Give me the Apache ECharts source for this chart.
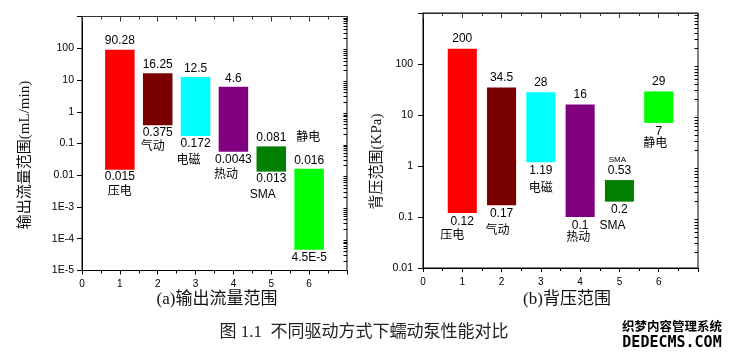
<!DOCTYPE html>
<html><head><meta charset="utf-8">
<script src="https://cdn.jsdelivr.net/npm/echarts@6/dist/echarts.min.js"></script>
<style>html,body{margin:0;padding:0;background:#fff}#c{width:731px;height:359px}</style>
</head><body><div id="c"></div>
<script>
// ---- data ----
const categories = ['压电', '气动', '电磁', '热动', 'SMA', '静电'];
const positions = [1, 2, 3, 4, 5, 6];
// (a) output flow range (mL/min): drawn extents
const flowLow  = [0.015, 0.375, 0.172, 0.055, 0.013, 4.5e-5];
const flowHigh = [90.28, 16.25, 12.5, 6.1, 0.081, 0.016];
const flowLowLabels  = ['0.015', '0.375', '0.172', '0.0043', '0.013', '4.5E-5'];
const flowHighLabels = ['90.28', '16.25', '12.5', '4.6', '0.081', '0.016'];
// (b) back pressure range (KPa)
const pressLow  = [0.12, 0.17, 1.19, 0.1, 0.2, 7];
const pressHigh = [200, 34.5, 28, 16, 0.53, 29];
const pressLowLabels  = ['0.12', '0.17', '1.19', '0.1', '0.2', '7'];
const pressHighLabels = ['200', '34.5', '28', '16', '0.53', '29'];
// tick labels
const xTickLabels = ['0', '1', '2', '3', '4', '5', '6', ''];
const flowTickLabels = ['1E-5', '1E-4', '1E-3', '0.01', '0.1', '1', '10', '100', ''];   // 1e-5 .. 1e3
const pressTickLabels = ['0.01', '0.1', '1', '10', '100', ''];                        // 1e-2 .. 1e3
const flowExpRange = [-5, 3];
const pressExpRange = [-2, 3];
const minorMultipliers = [2, 3, 4, 5, 6, 7, 8, 9];

// ---- styles / layout ----
const barColors = ['#ff0000', '#7a0000', '#00ffff', '#800080', '#007f00', '#00ff00'];
const numFont = '12px "Liberation Sans", Arial, sans-serif';
const cjkFont = '12px "Noto Sans CJK SC", sans-serif';
const smaFont = '12px "Liberation Sans Narrow", "Liberation Sans", sans-serif';
const flowCatLayout = [
  {dx: 0, dy: 21, from: 'low'}, {dx: -5, dy: 20.5, from: 'low'}, {dx: -7, dy: 23, from: 'low'},
  {dx: -7.5, dy: 21.6, from: 'low'}, {dx: -8.5, dy: 23.3, from: 'low'}, {dx: -1, dy: -32.7, from: 'high'}
];
const pressCatLayout = [
  {dx: -10, dy: 21, from: 'low'}, {dx: -4, dy: 24, from: 'low'}, {dx: 0, dy: 25.6, from: 'low'},
  {dx: -2, dy: 19, from: 'low'}, {dx: -7, dy: 23.7, from: 'low'}, {dx: -3.5, dy: 20, from: 'low'}
];
const grids = [
  {left: 82, top: 16.5, width: 265, height: 254},
  {left: 423, top: 13, width: 275, height: 255}
];

function makeRender(cfg) {
  return function (params, api) {
    const i = params.dataIndex;
    const x = api.value(0), lo = api.value(1), hi = api.value(2);
    const pTL = api.coord([x - cfg.barW / 2, hi]);
    const pBR = api.coord([x + cfg.barW / 2, lo]);
    const cx = api.coord([x, hi])[0];
    const children = [{
      type: 'rect',
      shape: {x: pTL[0], y: pTL[1], width: pBR[0] - pTL[0], height: pBR[1] - pTL[1]},
      style: {fill: barColors[i]}
    }];
    const txt = (text, tx, ty, font) => ({
      type: 'text',
      style: {text, x: tx, y: ty, align: 'center', verticalAlign: 'middle', font, fill: '#000'}
    });
    children.push(txt(cfg.highLabels[i], cx, pTL[1] + cfg.topGap, numFont));
    children.push(txt(cfg.lowLabels[i], cx, pBR[1] + cfg.botGap, numFont));
    const L = cfg.catLayout[i];
    const baseY = L.from === 'low' ? pBR[1] : pTL[1];
    const name = categories[i];
    children.push(txt(name, cx + L.dx, baseY + L.dy, name === 'SMA' ? smaFont : cjkFont));
    if (cfg.extra && cfg.extra[i]) {
      const e = cfg.extra[i];
      children.push(txt(e.text, cx + e.dx, pTL[1] + e.dy, e.font));
    }
    return {type: 'group', children};
  };
}

function logFormatter(labels, minExp) {
  return v => {
    const e = Math.round(Math.log10(v));
    const s = labels[e - minExp];
    return s === undefined ? '' : s;
  };
}

const axisColor = '#000';
function xAxes(gi) {
  return [{
    type: 'value', gridIndex: gi, min: 0, max: 7, interval: 1,
    axisLine: {show: true, onZero: false, lineStyle: {color: axisColor}},
    axisTick: {show: true, length: 4, lineStyle: {color: axisColor}},
    minorTick: {show: true, splitNumber: 2, length: 3, lineStyle: {color: axisColor}},
    splitLine: {show: false},
    axisLabel: {formatter: v => xTickLabels[Math.round(v)] || '', fontSize: 10, color: '#000',
      fontFamily: '"Liberation Sans", Arial, sans-serif', margin: 9}
  }, {
    type: 'value', gridIndex: gi, min: 0, max: 7, interval: 1, position: 'top',
    axisLine: {show: true, onZero: false, lineStyle: {color: '#333'}},
    axisTick: {show: true, inside: true, length: 5, lineStyle: {color: '#333'}},
    minorTick: {show: true, splitNumber: 2, length: 3, lineStyle: {color: '#333'}},
    splitLine: {show: false}, axisLabel: {show: false}
  }];
}
function yAxis(gi, expRange, labels, margin) {
  return {
    type: 'log', logBase: 10, gridIndex: gi, position: 'left',
    min: Math.pow(10, expRange[0]), max: Math.pow(10, expRange[1]),
    axisLine: {show: true, onZero: false, lineStyle: {color: axisColor}},
    axisTick: {show: true, length: 5, lineStyle: {color: axisColor}},
    minorTick: {show: false},
    splitLine: {show: false},
    axisLabel: {formatter: logFormatter(labels, expRange[0]), fontSize: 10.5, color: '#000',
      fontFamily: '"Liberation Sans", Arial, sans-serif', margin}
  };
}
// overlay axis (in exponent space) that carries the log minor ticks 2..9 of each decade,
// moved onto the left edge of the grid
function minorAxis(gi, expRange) {
  const vals = [];
  for (let e = expRange[0]; e < expRange[1]; e++) {
    minorMultipliers.forEach(m => vals.push(e + Math.log10(m)));
  }
  return {
    type: 'value', gridIndex: gi, min: expRange[0], max: expRange[1], position: 'right',
    offset: -grids[gi].width,
    axisLine: {show: false}, splitLine: {show: false}, axisLabel: {show: false},
    axisTick: {show: true, inside: true, length: 3.5, customValues: vals, lineStyle: {color: axisColor}}
  };
}

const serif = '"Liberation Serif", "Noto Sans CJK SC", serif';
const option = {
  animation: false,
  backgroundColor: '#fff',
  grid: grids.map(g => Object.assign({show: true, borderColor: '#000', borderWidth: 1}, g)),
  xAxis: [...xAxes(0), ...xAxes(1)],
  yAxis: [yAxis(0, flowExpRange, flowTickLabels, 8), yAxis(1, pressExpRange, pressTickLabels, 10),
          minorAxis(0, flowExpRange), minorAxis(1, pressExpRange)],
  series: [{
    type: 'custom', xAxisIndex: 0, yAxisIndex: 0, clip: false,
    encode: {x: 0, y: [1, 2]},
    data: positions.map((p, i) => [p, flowLow[i], flowHigh[i]]),
    renderItem: makeRender({barW: 0.78, topGap: -8.5, botGap: 7.5,
      highLabels: flowHighLabels, lowLabels: flowLowLabels, catLayout: flowCatLayout})
  }, {
    type: 'custom', xAxisIndex: 2, yAxisIndex: 1, clip: false,
    encode: {x: 0, y: [1, 2]},
    data: positions.map((p, i) => [p, pressLow[i], pressHigh[i]]),
    renderItem: makeRender({barW: 0.74, topGap: -9.5, botGap: 8.5,
      highLabels: pressHighLabels, lowLabels: pressLowLabels, catLayout: pressCatLayout,
      extra: {4: {text: 'SMA', dx: -2, dy: -20.7, font: '8px "Liberation Sans", Arial, sans-serif'}}})
  }],
  graphic: [
    {type: 'text', x: 25, y: 155, rotation: Math.PI / 2,
      style: {text: '输出流量范围(mL/min)', align: 'center', verticalAlign: 'middle',
        font: '15px ' + serif, fill: '#111'}},
    {type: 'text', x: 377, y: 161.5, rotation: Math.PI / 2,
      style: {text: '背压范围(KPa)', align: 'center', verticalAlign: 'middle',
        font: '15px ' + serif, fill: '#111'}},
    {type: 'text', x: 217, y: 300,
      style: {text: '(a)输出流量范围', align: 'center', verticalAlign: 'middle',
        font: '17px ' + serif, fill: '#111'}},
    {type: 'text', x: 567, y: 300,
      style: {text: '(b)背压范围', align: 'center', verticalAlign: 'middle',
        font: '17px ' + serif, fill: '#111'}},
    {type: 'text', x: 364, y: 333,
      style: {text: '图 1.1  不同驱动方式下蠕动泵性能对比', align: 'center', verticalAlign: 'middle',
        font: '17px ' + serif, fill: '#222'}},
    {type: 'text', x: 672, y: 326,
      style: {text: '织梦内容管理系统', align: 'center', verticalAlign: 'middle',
        font: 'bold 12.5px "Noto Sans CJK SC", sans-serif', fill: '#000'}},
    {type: 'text', x: 672, y: 343,
      style: {text: 'DEDECMS.COM', align: 'center', verticalAlign: 'middle',
        font: 'bold 15px "DejaVu Sans Mono", monospace', fill: '#000'}}
  ]
};
const chart = echarts.init(document.getElementById('c'), null, {renderer: 'canvas'});
chart.setOption(option);
</script>
</body></html>
